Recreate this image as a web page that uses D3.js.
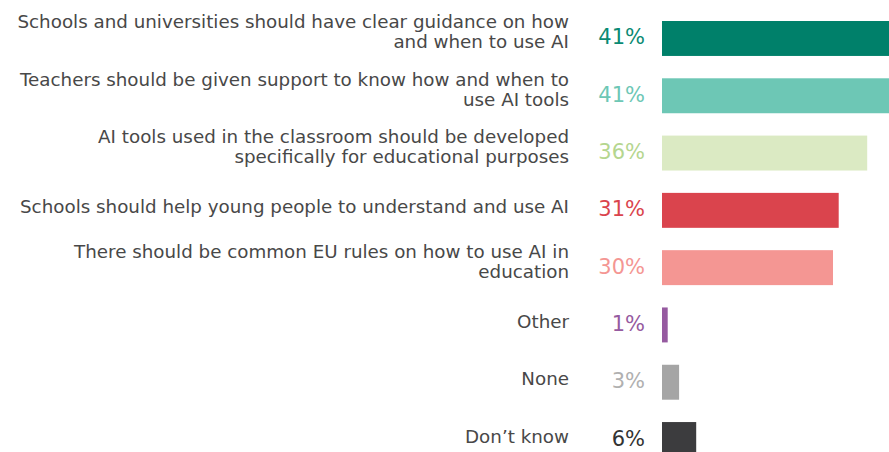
<!DOCTYPE html>
<html>
<head>
<meta charset="utf-8">
<script src="https://cdn.jsdelivr.net/npm/d3@7"></script>
<style>
  html, body { margin: 0; padding: 0; background: #fff; overflow: hidden; }
  svg { display: block; }
</style>
</head>
<body>
<svg id="chart" width="889" height="452"></svg>
<script>
// Answer categories (label lines), shares in percent and colours
const categories = [
  ["Schools and universities should have clear guidance on how", "and when to use AI"],
  ["Teachers should be given support to know how and when to", "use AI tools"],
  ["AI tools used in the classroom should be developed", "specifically for educational purposes"],
  ["Schools should help young people to understand and use AI"],
  ["There should be common EU rules on how to use AI in", "education"],
  ["Other"],
  ["None"],
  ["Don\u2019t know"]
];
const values = [41, 41, 36, 31, 30, 1, 3, 6];
const barColors = ["#00806a", "#6dc7b5", "#dbeac3", "#da444d", "#f49693", "#965aa0", "#a5a5a5", "#3c3c3e"];
const valueColors = ["#0a8a73", "#6dc7b5", "#b5d68f", "#da444d", "#f49693", "#965aa0", "#b0b0b0", "#333333"];

const svg = d3.select("#chart");
const font = "'DejaVu Sans', sans-serif";

const barLeft = 662;
const x = d3.scaleLinear().domain([0, 100]).range([0, 570]);
const y = d3.scaleBand()
  .domain(d3.range(categories.length))
  .range([21, 457])
  .paddingInner(0.39)
  .paddingOuter(0);

const rows = svg.selectAll("g.row")
  .data(values)
  .join("g")
  .attr("class", "row")
  .attr("transform", (d, i) => `translate(0,${y(i) + y.bandwidth() / 2})`);

rows.append("rect")
  .attr("x", barLeft)
  .attr("y", -y.bandwidth() / 2)
  .attr("width", d => x(d))
  .attr("height", y.bandwidth())
  .attr("fill", (d, i) => barColors[i]);

rows.append("text")
  .attr("x", 645)
  .attr("y", 6)
  .attr("text-anchor", "end")
  .attr("font-family", font)
  .attr("font-size", 21)
  .attr("fill", (d, i) => valueColors[i])
  .text(d => d + "%");

rows.append("text")
  .attr("text-anchor", "end")
  .attr("font-family", font)
  .attr("font-size", 18.3)
  .attr("fill", "#484848")
  .each(function (d, i) {
    const lines = categories[i];
    const t = d3.select(this);
    lines.forEach((line, k) => {
      const off = lines.length === 1 ? 3 : (k === 0 ? -10 : 10);
      t.append("tspan").attr("x", 569).attr("y", off).text(line);
    });
  });
</script>
</body>
</html>
